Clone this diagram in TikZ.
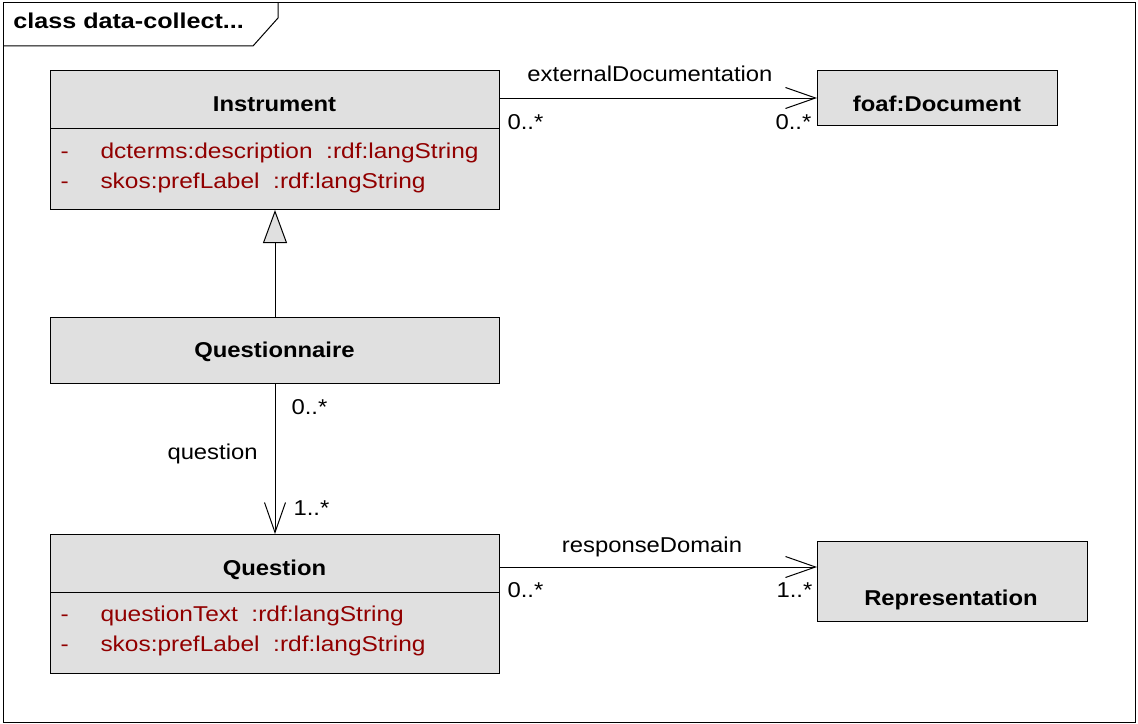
\documentclass[tikz,border=0pt]{standalone}
\usepackage{fontspec}
\setmainfont{Liberation Sans}[FakeStretch=1.11]
\newfontfamily\attrfont{Liberation Sans}[FakeStretch=1.14]
\newfontfamily\frmfont{Liberation Sans}[FakeStretch=1.17]
\usetikzlibrary{arrows.meta}
\definecolor{boxfill}{RGB}{224,224,224}
\definecolor{attrred}{RGB}{145,0,0}
\begin{document}
\begin{tikzpicture}[x=0.75pt,y=-0.75pt,
  line width=0.75pt,
  font=\fontsize{16.1}{19}\selectfont,
  classbox/.style={draw=black, fill=boxfill, anchor=north west, inner sep=0pt},
  ttl/.style={anchor=base, inner sep=0pt, font=\fontsize{16.1}{19}\selectfont\bfseries},
  txt/.style={anchor=base west, inner sep=0pt},
  attr/.style={txt, text=attrred, font=\attrfont\fontsize{16.1}{19}\selectfont},
  assoc/.style={draw=black, -{Straight Barb[length=22.5pt,width=15.75pt]}},
  gen/.style={draw=black, -{Triangle[open, fill=boxfill, length=24.75pt, width=18pt]}}
]
\useasboundingbox (0,0) rectangle (1138,724);
% frame
\draw[fill=white] (3,3) rectangle (1135,722);
\draw (3,46) -- (253,46) -- (278,18) -- (278,3);
\node[txt, font=\frmfont\fontsize{16.1}{19}\selectfont\bfseries] (frametitle) at (13,29) {class data-collect...};

% classes
\node[classbox, minimum width=336.75pt, minimum height=104.25pt] (instr) at (50,70) {};
\draw (50,128) -- (499,128);
\node[ttl] (instrt) at (274.5,111) {Instrument};
\node[attr] (ia1d) at (60,158) {-};
\node[attr] (ia1) at (100,158) {dcterms:description\ \ :rdf:langString};
\node[attr] (ia2d) at (60,188) {-};
\node[attr] (ia2) at (100,188) {skos:prefLabel\ \ :rdf:langString};

\node[classbox, minimum width=180pt, minimum height=41.25pt] (foaf) at (817,70) {};
\node[ttl] (foaft) at (937,111) {foaf:Document};

\node[classbox, minimum width=336.75pt, minimum height=49.5pt] (qnaire) at (50,317) {};
\node[ttl] (qnairet) at (274.5,357) {Questionnaire};

\node[classbox, minimum width=336.75pt, minimum height=104.25pt] (question) at (50,534) {};
\draw (50,592) -- (499,592);
\node[ttl] (questiont) at (274.5,575) {Question};
\node[attr] (qa1d) at (60,621) {-};
\node[attr] (qa1) at (100,621) {questionText\ \ :rdf:langString};
\node[attr] (qa2d) at (60,651) {-};
\node[attr] (qa2) at (100,651) {skos:prefLabel\ \ :rdf:langString};

\node[classbox, minimum width=202.5pt, minimum height=60pt] (repr) at (817,541) {};
\node[ttl] (reprt) at (951,605) {Representation};

% connectors
\draw[assoc] (instr.east |- foaf.west) -- (foaf.west);
\node[anchor=base, inner sep=0pt] (edlbl) at (650,82) {externalDocumentation};
\node[txt] (ed0) at (507,129) {0..*};
\node[txt] (ed1) at (775,129) {0..*};

\draw[gen] (qnaire.north) -- (instr.south);

\draw[assoc] (qnaire.south) -- (question.north);
\node[txt] (q0) at (291,414) {0..*};
\node[txt] (qlbl) at (167,459) {question};
\node[txt] (q1) at (293,515) {1..*};

\draw[assoc] ([yshift=-24.75pt]question.north east) -- ([yshift=-24.75pt]question.north east -| repr.west);
\node[anchor=base, inner sep=0pt] (rdlbl) at (652,552) {responseDomain};
\node[txt] (rd0) at (507,597) {0..*};
\node[txt] (rd1) at (776,597) {1..*};
\end{tikzpicture}
\end{document}
